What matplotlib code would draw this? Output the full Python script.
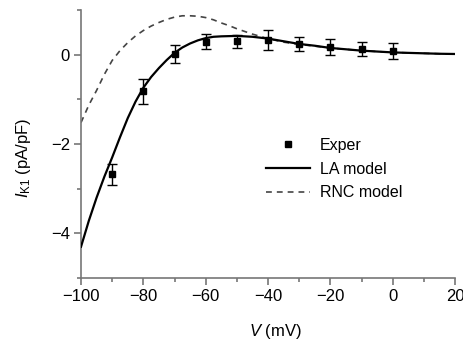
import matplotlib
matplotlib.use('Agg')
import matplotlib.pyplot as plt
from matplotlib.lines import Line2D
from matplotlib.ticker import MultipleLocator

plt.rcParams['font.family'] = ['Liberation Sans', 'DejaVu Sans']
plt.rcParams['mathtext.fontset'] = 'custom'
plt.rcParams['mathtext.rm'] = 'Liberation Sans'
plt.rcParams['mathtext.it'] = 'Liberation Sans:italic'

# experimental points (mV, pA/pF, error)
exp_v = [-90, -80, -70, -60, -50, -40, -30, -20, -10, 0]
exp_i = [-2.68, -0.82, 0.01, 0.29, 0.3, 0.33, 0.24, 0.17, 0.13, 0.08]
exp_err = [0.24, 0.28, 0.2, 0.17, 0.15, 0.22, 0.16, 0.17, 0.16, 0.17]

# LA model curve
la_v = [-100, -97.5, -95, -92.5, -90, -87.5, -85, -82.5, -80, -77.5, -75, -72.5,
        -70, -67.5, -65, -62.5, -60, -57.5, -55, -50, -45, -40, -35, -30, -25,
        -20, -15, -10, -5, 0, 5, 10, 15, 20]
la_i = [-4.3, -3.72, -3.2, -2.73, -2.3, -1.85, -1.42, -1.05, -0.74, -0.5, -0.3, -0.12,
        0.04, 0.16, 0.25, 0.32, 0.37, 0.4, 0.41, 0.42, 0.4, 0.36, 0.3, 0.24, 0.2,
        0.15, 0.12, 0.09, 0.07, 0.05, 0.04, 0.03, 0.02, 0.015]

# RNC model curve
rnc_v = [-100, -97.5, -95, -92.5, -90, -87.5, -85, -82.5, -80, -77.5, -75, -72.5,
         -70, -67.5, -65, -62.5, -60, -57.5, -55, -52.5, -50, -45, -40, -35, -30,
         -25, -20, -15, -10, -5, 0, 5, 10, 15, 20]
rnc_i = [-1.52, -1.13, -0.8, -0.44, -0.13, 0.09, 0.27, 0.42, 0.54, 0.64, 0.72, 0.79,
         0.84, 0.87, 0.87, 0.86, 0.83, 0.78, 0.71, 0.65, 0.58, 0.46, 0.36, 0.28, 0.23,
         0.19, 0.15, 0.12, 0.09, 0.07, 0.05, 0.04, 0.03, 0.02, 0.015]

fig = plt.figure(figsize=(4.64, 3.42), dpi=100)
ax = fig.add_axes([0.1746, 0.1871, 0.806, 0.7837])

la_line, = ax.plot(la_v, la_i, color='black', lw=1.6, zorder=3)
rnc_line, = ax.plot(rnc_v, rnc_i, color='#444444', lw=1.2, dashes=(3.5, 3), zorder=2)
ax.errorbar(exp_v, exp_i, yerr=exp_err, fmt='s', color='black', ms=4,
            elinewidth=1, capsize=3.5, capthick=1, zorder=4)

ax.set_xlim(-100, 20)
ax.set_ylim(-5, 1)
ax.xaxis.set_major_locator(MultipleLocator(20))
ax.xaxis.set_minor_locator(MultipleLocator(10))
ax.yaxis.set_major_locator(MultipleLocator(2))
ax.yaxis.set_minor_locator(MultipleLocator(1))

for s in ['top', 'right']:
    ax.spines[s].set_visible(False)
for s in ['left', 'bottom']:
    ax.spines[s].set_color('#777777')
    ax.spines[s].set_linewidth(1.2)
ax.tick_params(which='both', direction='out', color='#777777', width=1.2)
ax.tick_params(which='major', length=5, labelsize=12, pad=3)
ax.tick_params(which='minor', length=3)

ax.set_xlabel(r'$\mathit{V}$ (mV)', fontsize=12)
ax.xaxis.set_label_coords(0.519, -0.164)
ax.set_ylabel(r'$\mathit{I}_{\mathrm{K1}}$ (pA/pF)', fontsize=12)
ax.yaxis.set_label_coords(-0.128, 0.45)

exp_handle = Line2D([], [], ls='none', marker='s', color='black', ms=4)
ax.legend([exp_handle, la_line, rnc_line], ['Exper', 'LA model', 'RNC model'],
          loc='center left', bbox_to_anchor=(0.455, 0.406), frameon=False,
          fontsize=11.5, handlelength=2.8, handletextpad=0.6, labelspacing=0.55)

fig.savefig('out.png', dpi=100)
